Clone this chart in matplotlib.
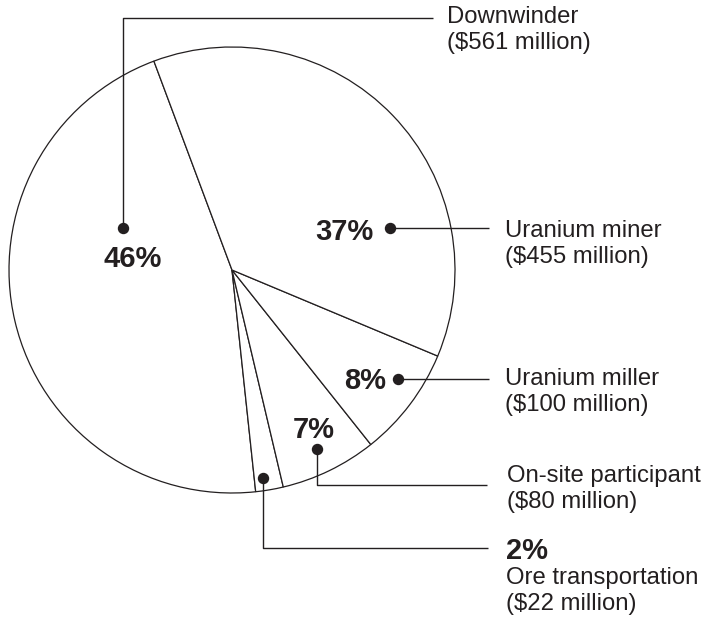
import matplotlib
matplotlib.use("Agg")
import matplotlib.pyplot as plt

# Data: compensation by claimant category (order = drawing order of wedges)
categories = ["Downwinder", "Ore transportation", "On-site participant",
              "Uranium miller", "Uranium miner"]
percents = [46, 2, 7, 8, 37]
amounts = [561, 22, 80, 100, 455]   # $ million

W, H = 709, 621
INK = "#231f20"
plt.rcParams['font.family'] = ['Liberation Sans', 'DejaVu Sans']

fig = plt.figure(figsize=(W / 100, H / 100), dpi=100)
ax = fig.add_axes([0, 0, 1, 1])


def py(y):
    # pixel row (from top) -> data y (from bottom)
    return H - y


center = (232, py(270))
radius = 223

ax.pie(percents, startangle=110.5, counterclock=True, center=center,
       radius=radius, colors=["white"] * len(percents),
       wedgeprops=dict(edgecolor=INK, linewidth=0.9))

ax.set_xlim(0, W)
ax.set_ylim(0, H)
ax.set_aspect('equal')
ax.axis('off')

# layout for callouts, in pixels (x from left, y from top)
# dot, leader path, text x, first text line y
callouts = {
    "Downwinder": dict(path=[(123, 228), (123, 18), (433, 18)], tx=447, ty=17),
    "Uranium miner": dict(path=[(390, 228), (489, 228)], tx=505, ty=231),
    "Uranium miller": dict(path=[(398, 379), (489, 379)], tx=505, ty=379),
    "On-site participant": dict(path=[(317, 449), (317, 485), (487, 485)], tx=507, ty=476),
    "Ore transportation": dict(path=[(263, 478), (263, 548), (488, 548)], tx=506, ty=578),
}
pct_pos = {
    "Downwinder": (133, 259, 'center'),
    "Uranium miner": (374, 232, 'right'),
    "Uranium miller": (386, 381, 'right'),
    "On-site participant": (314, 430, 'center'),
    "Ore transportation": (506, 551, 'left'),
}

LINE = 26
for cat, pct, amt in zip(categories, percents, amounts):
    c = callouts[cat]
    xs = [p[0] for p in c["path"]]
    ys = [py(p[1]) for p in c["path"]]
    ax.plot(xs, ys, color=INK, lw=1.0, solid_capstyle='butt', zorder=3)
    ax.plot(xs[0], ys[0], 'o', color=INK, ms=7.2, zorder=4)
    lines = [cat, f"(${amt} million)"]
    for i, t in enumerate(lines):
        ax.text(c["tx"], py(c["ty"] + i * LINE), t, fontsize=17.2,
                color=INK, ha='left', va='center')
    px_, py_, ha = pct_pos[cat]
    ax.text(px_, py(py_), f"{pct}%", fontsize=21, fontweight='bold',
            color=INK, ha=ha, va='center')

fig.savefig("out.png", dpi=100, facecolor="white")
